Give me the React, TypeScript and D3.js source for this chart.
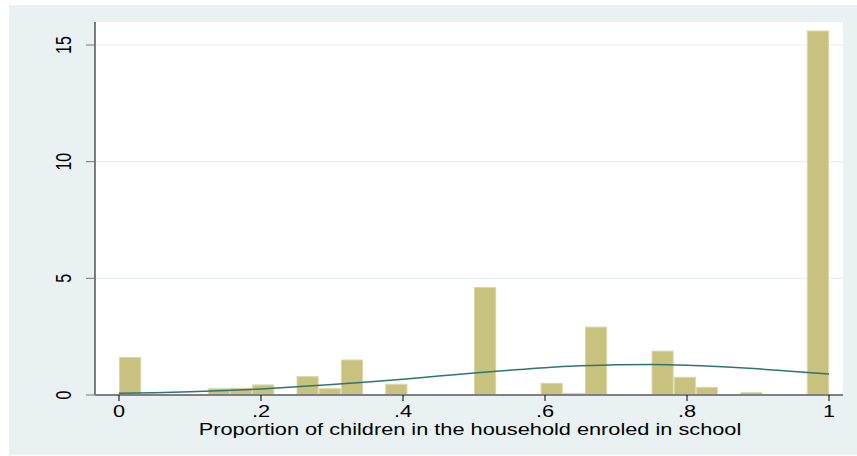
import React from 'react';
import * as d3 from 'd3';

// histogram: 32 bins of width 1/32 on [0, 1], density heights
const BIN_COUNT = 32;
const DENSITY = [
  1.61, 0, 0, 0, 0.27, 0.29, 0.43, 0,
  0.79, 0.27, 1.5, 0, 0.46, 0, 0, 0,
  4.61, 0, 0, 0.5, 0.07, 2.91, 0, 0,
  1.88, 0.76, 0.33, 0, 0.1, 0, 0, 15.6,
];

// overlaid normal density
const CURVE_X = [0, 0.05, 0.1, 0.15, 0.2, 0.25, 0.3, 0.35, 0.4, 0.45, 0.5, 0.55, 0.6, 0.65, 0.7, 0.75, 0.8, 0.85, 0.9, 0.95, 1];
const CURVE_Y = [0.07, 0.1, 0.14, 0.19, 0.26, 0.35, 0.45, 0.56, 0.68, 0.81, 0.94, 1.06, 1.17, 1.25, 1.3, 1.31, 1.28, 1.21, 1.12, 1.01, 0.9];

const X_TICKS = [0, 0.2, 0.4, 0.6, 0.8, 1];
const X_LABELS = ['0', '.2', '.4', '.6', '.8', '1'];
const Y_TICKS = [0, 5, 10, 15];
const X_TITLE = 'Proportion of children in the household enroled in school';

const W = 857;
const H = 456;
const plot = { left: 95, right: 843, top: 22, bottom: 395 };
const FONT = '"Liberation Sans", Arial, sans-serif';
const FS = 16;
const SX = 1.36; // the picture is stretched horizontally

const App: React.FC = () => {
  const x = d3.scaleLinear().domain([0, 1]).range([119, 829]);
  const y = d3.scaleLinear().domain([0, 15]).range([plot.bottom, 45]);

  const bins = DENSITY.map((d, i) => ({ x0: i / BIN_COUNT, x1: (i + 1) / BIN_COUNT, d }));

  const line = d3.line<number>()
    .curve(d3.curveMonotoneX)
    .x((_, i) => x(CURVE_X[i]))
    .y(d => y(d));

  return (
    <div style={{ position: 'fixed', left: 0, top: 0 }}>
      <svg width={W} height={H} style={{ display: 'block' }}>
        <rect x={0} y={0} width={W} height={H} fill="#ffffff" />
        <rect x={9} y={5} width={W - 9} height={450} fill="#eaf1f3" />
        <rect x={plot.left} y={plot.top} width={plot.right - plot.left} height={plot.bottom - plot.top} fill="#ffffff" />

        {/* grid lines */}
        {Y_TICKS.filter(t => t > 0).map(t => (
          <line key={'g' + t} x1={plot.left} x2={plot.right} y1={y(t)} y2={y(t)} stroke="#e6eef0" strokeWidth={1.2} />
        ))}

        {/* bars */}
        {bins.filter(b => b.d > 0).map((b, i) => (
          <rect
            key={'b' + i}
            x={x(b.x0) + 0.5}
            y={y(b.d)}
            width={x(b.x1) - x(b.x0) - 1}
            height={y(0) - y(b.d)}
            fill="#c9c27f"
            stroke="#dcd7a6"
            strokeWidth={1}
          />
        ))}

        {/* density curve */}
        <path d={line(CURVE_Y) || ''} fill="none" stroke="#2b7770" strokeWidth={1.5} />

        {/* y axis */}
        <line x1={plot.left} x2={plot.left} y1={plot.top} y2={plot.bottom} stroke="#000" strokeWidth={1} />
        {Y_TICKS.map(t => (
          <g key={'y' + t}>
            <line x1={86} x2={plot.left} y1={y(t)} y2={y(t)} stroke="#777" strokeWidth={1} />
            <text
              transform={`translate(71,${y(t)}) scale(${SX},1) rotate(-90)`}
              textAnchor="middle"
              fontFamily={FONT}
              fontSize={FS}
              fill="#000"
            >
              {t}
            </text>
          </g>
        ))}

        {/* x axis */}
        <line x1={plot.left} x2={plot.right} y1={plot.bottom} y2={plot.bottom} stroke="#808080" strokeWidth={2} />
        {X_TICKS.map((t, i) => (
          <g key={'x' + t}>
            <line x1={x(t)} x2={x(t)} y1={plot.bottom} y2={401} stroke="#000" strokeWidth={1} />
            <text
              transform={`translate(${x(t)},417) scale(${SX},1)`}
              textAnchor="middle"
              fontFamily={FONT}
              fontSize={FS}
              fill="#000"
            >
              {X_LABELS[i]}
            </text>
          </g>
        ))}
        <text
          transform={`translate(470,435) scale(${SX},1)`}
          textAnchor="middle"
          fontFamily={FONT}
          fontSize={FS}
          fill="#000"
        >
          {X_TITLE}
        </text>
      </svg>
    </div>
  );
};

export default App;
